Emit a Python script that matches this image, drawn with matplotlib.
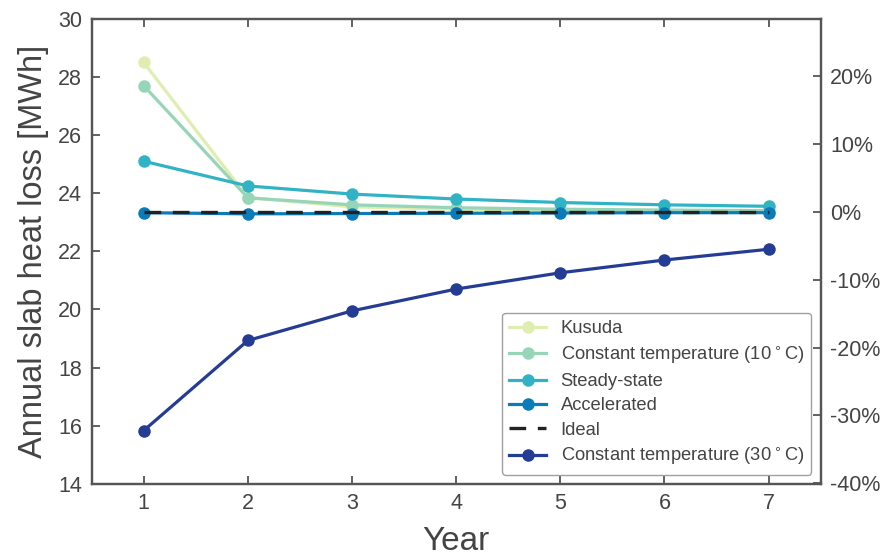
import numpy as np
import matplotlib.pyplot as plt
from matplotlib.ticker import FuncFormatter

plt.rcParams['font.family'] = ['Liberation Sans', 'DejaVu Sans']

years = [1, 2, 3, 4, 5, 6, 7]
kusuda = [28.5, 23.85, 23.53, 23.45, 23.41, 23.39, 23.38]
const_10 = [27.7, 23.84, 23.6, 23.5, 23.45, 23.42, 23.4]
steady = [25.1, 24.25, 23.97, 23.8, 23.68, 23.6, 23.55]
accelerated = [23.33, 23.29, 23.3, 23.31, 23.32, 23.33, 23.33]
ideal_value = 23.36
const_30 = [15.83, 18.93, 19.95, 20.7, 21.26, 21.7, 22.07]

colors = {
    'kusuda': '#dfeeb0',
    'const10': '#97d5b8',
    'steady': '#31b3c5',
    'accel': '#0b7cb8',
    'const30': '#243c93',
}
spine_col = '#555555'
text_col = '#444444'

fig, ax = plt.subplots(figsize=(8.9, 5.56), dpi=100)
fig.subplots_adjust(left=0.103, right=0.922, top=0.966, bottom=0.13)

kw = dict(marker='o', markersize=9, linewidth=2.3, markeredgewidth=0)
ax.plot(years, kusuda, color=colors['kusuda'], label='Kusuda', **kw)
ax.plot(years, const_10, color=colors['const10'], label='Constant temperature (10$^\\circ$C)', **kw)
ax.plot(years, steady, color=colors['steady'], label='Steady-state', **kw)
ax.plot(years, accelerated, color=colors['accel'], label='Accelerated', **kw)
ax.plot(years, [ideal_value] * len(years), color='#222222', linestyle='--',
        dashes=(5, 3.5), linewidth=2.4, label='Ideal')
ax.plot(years, const_30, color=colors['const30'], label='Constant temperature (30$^\\circ$C)', **kw)

ax.set_xlim(0.5, 7.5)
ax.set_ylim(14, 30)
ax.set_xticks(years)
ax.set_yticks(np.arange(14, 31, 2))
ax.set_xlabel('Year', fontsize=24, color=text_col, labelpad=8)
ax.set_ylabel('Annual slab heat loss [MWh]', fontsize=23.5, color=text_col, labelpad=6)

# relative error axis
ax2 = ax.twinx()
ax2.set_ylim(14 / ideal_value - 1, 30 / ideal_value - 1)
ax2.set_yticks(np.arange(-0.4, 0.21, 0.1))
ax2.yaxis.set_major_formatter(FuncFormatter(lambda v, p: '%d%%' % round(v * 100)))

for a in (ax, ax2):
    for s in a.spines.values():
        s.set_color(spine_col)
        s.set_linewidth(1.6)
    a.tick_params(direction='in', length=6, width=1.3, color=spine_col,
                  labelsize=15.5, labelcolor=text_col, pad=7)
ax.tick_params(axis='x', top=True)

leg = ax.legend(loc='lower right', fontsize=13.2, frameon=True, fancybox=True,
                borderaxespad=0.5, handlelength=2.0, labelspacing=0.4,
                handletextpad=0.8)
leg.get_frame().set_edgecolor('#888888')
leg.get_frame().set_linewidth(1.0)
for t in leg.get_texts():
    t.set_color(text_col)

fig.savefig('out.png', dpi=100)
